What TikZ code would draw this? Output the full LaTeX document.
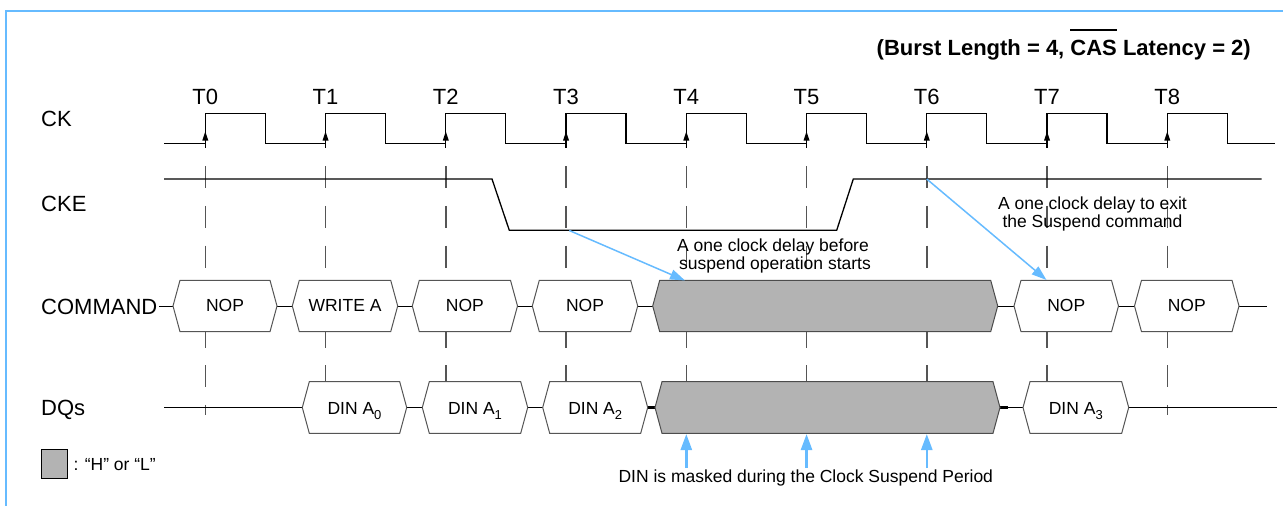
\documentclass[tikz,border=0pt]{standalone}
\usepackage{fontspec}
\setmainfont{Liberation Sans}
\usetikzlibrary{arrows.meta}
\definecolor{sky}{RGB}{102,187,255}
\definecolor{hl}{RGB}{179,179,179}
\definecolor{dgray}{RGB}{85,85,85}
\newcommand\dsub[1]{\raisebox{-0.3em}{\fontsize{13}{13}\selectfont #1}}
\newcommand\ovbar[1]{\setbox0\hbox{#1}\rlap{\rule[\dimexpr\ht0+8.5pt\relax]{\wd0}{2.5pt}}\box0\relax}
\newcommand\hexpath[5]{%
  \path[#1] (#2,{(#4+#5)/2}) -- ({#2+7},#4) -- ({#3-7},#4) -- (#3,{(#4+#5)/2}) -- ({#3-7},#5) -- ({#2+7},#5) -- cycle;}
\begin{document}
\begin{tikzpicture}[x=1pt,y=-1pt,
  lbl/.style={font=\fontsize{22}{26}\selectfont, inner sep=0},
  sm/.style={font=\fontsize{17.5}{21}\selectfont, inner sep=0},
  wire/.style={line width=1.3pt, black},
  grid/.style={line width=1.4pt, dgray, dash pattern=on 22.3pt off 17.5pt},
  hexw/.style={draw=dgray, line width=1pt, fill=white},
  hexg/.style={draw=black!70, line width=1pt, fill=hl},
  note/.style={draw=sky, line width=1.5pt, -{Triangle[length=15pt,width=10pt]}},
  mask/.style={draw=sky, line width=2.5pt, -{Triangle[length=16pt,width=11pt]}},
]
\path[use as bounding box] (0,0) rectangle (1283,506);
\draw[sky, line width=2pt] (6,506) -- (6,11) -- (1283,11);

% title
\node[font=\bfseries\fontsize{22}{26}\selectfont, anchor=base east, inner sep=0] (title) at (1251,55) {(Burst Length = 4, \ovbar{CAS} Latency = 2)};

% signal labels
\node[lbl, anchor=base west] (lck) at (41,126) {CK};
\node[lbl, anchor=base west] (lcke) at (41,211.7) {CKE};
\node[lbl, anchor=base west] (lcmd) at (41,314.6) {COMMAND};
\node[lbl, anchor=base west] (ldq) at (41,415.5) {DQs};

% grid, clock ticks, labels
\foreach \i in {0,...,8}{
  \pgfmathsetmacro\tx{205.3+120.25*\i}
  \draw[grid] (\tx,166) -- (\tx,415);
  \node[lbl, anchor=base] (t\i) at (\tx,104) {T\i};
  \draw[wire] (\tx,143.3) -- (\tx,147.7);
  \fill ({\tx},131.5) -- ({\tx-3},140.5) -- ({\tx+3},140.5) -- cycle;
}

% clock
\draw[wire] (164,143.3) \foreach \i in {0,...,8}{ -- ({205.3+120.25*\i},143.3) -- ({205.3+120.25*\i},113.7) -- ({265.3+120.25*\i},113.7) -- ({265.3+120.25*\i},143.3)} -- (1275,143.3);

% CKE
\draw[wire] (164,179) -- (492,179) -- (509.3,230.3) -- (836.7,230.3) -- (853.3,179) -- (1261.7,179);

% command bus
\draw[line width=1pt] (159,306) -- (1267,306);
\hexpath{hexw}{173}{277}{280.3}{331.7}
\hexpath{hexw}{292.3}{397.7}{280.3}{331.7}
\hexpath{hexw}{412.3}{517.5}{280.3}{331.7}
\hexpath{hexw}{532.3}{637.7}{280.3}{331.7}
\hexpath{hexg}{652.7}{997.7}{280.3}{331.7}
\hexpath{hexw}{1014}{1118.5}{280.3}{331.7}
\hexpath{hexw}{1134.5}{1239}{280.3}{331.7}
\node[sm, anchor=base] (c0) at (225,311.7) {NOP};
\node[sm, anchor=base] (c1) at (345,311.7) {WRITE A};
\node[sm, anchor=base] (c2) at (464.9,311.7) {NOP};
\node[sm, anchor=base] (c3) at (585,311.7) {NOP};
\node[sm, anchor=base] (c7) at (1066.3,311.7) {NOP};
\node[sm, anchor=base] (c8) at (1186.8,311.7) {NOP};

% DQ bus
\draw[line width=1pt] (164,407.5) -- (1277,407.5);
\draw[line width=2.2pt] (647.7,407.5) -- (656,407.5);
\draw[line width=2.2pt] (998,407.5) -- (1008,407.5);
\hexpath{hexw}{302.3}{406.7}{381.7}{433.3}
\hexpath{hexw}{422.3}{527.7}{381.7}{433.3}
\hexpath{hexw}{542.7}{647.7}{381.7}{433.3}
\hexpath{hexg}{655}{1000}{381.7}{433.3}
\hexpath{hexw}{1023}{1128.7}{381.7}{433.3}
\node[sm, anchor=base] (d0) at (354.5,414) {DIN A\dsub{0}};
\node[sm, anchor=base] (d1) at (475,414) {DIN A\dsub{1}};
\node[sm, anchor=base] (d2) at (595.2,414) {DIN A\dsub{2}};
\node[sm, anchor=base] (d3) at (1075.8,414) {DIN A\dsub{3}};

% annotations
\node[sm, anchor=base] (n1a) at (773,251.3) {A one clock delay before};
\node[sm, anchor=base] (n1b) at (775,269.3) {suspend operation starts};
\node[sm, anchor=base] (n2a) at (1092.5,209) {A one clock delay to exit};
\node[sm, anchor=base] (n2b) at (1092.5,227.3) {the Suspend command};
\node[sm, anchor=base] (n3) at (805.8,482.3) {DIN is masked during the Clock Suspend Period};

\coordinate (a1s) at (569.3,230.5);
\coordinate (a1e) at (685,280.5);
\coordinate (a2s) at (926.7,179);
\coordinate (a2e) at (1046.5,280);
\draw[note] (a1s) -- (a1e);
\draw[note] (a2s) -- (a2e);
\foreach \i in {4,5,6}{
  \pgfmathsetmacro\tx{205.3+120.25*\i}
  \coordinate (m\i s) at (\tx,468);
  \coordinate (m\i e) at (\tx,434);
  \draw[mask] (m\i s) -- (m\i e);
}

% legend
\draw[fill=hl, line width=1pt] (41.3,449.3) rectangle (67.7,478.3);
\node[sm, anchor=base west] (leg) at (73.3,470.7) {: “H” or “L”};
\end{tikzpicture}
\end{document}
